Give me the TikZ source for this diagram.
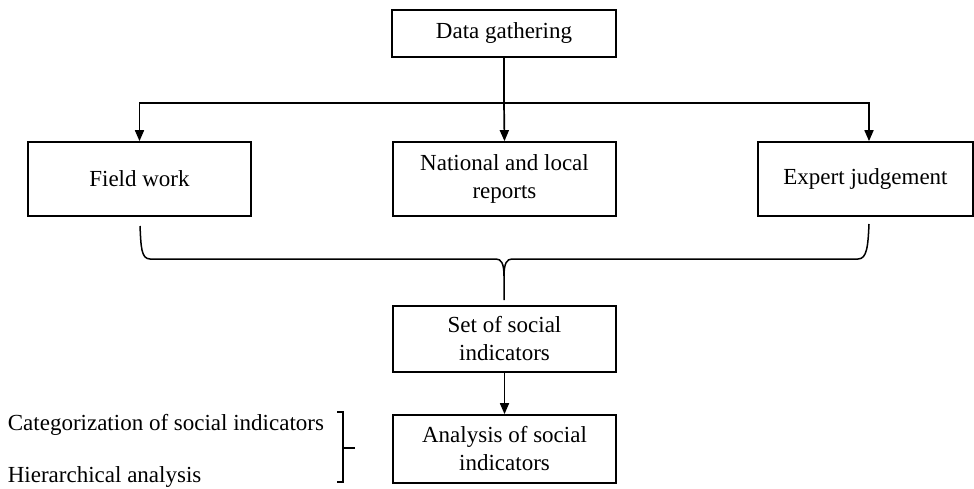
\documentclass[tikz,border=0pt]{standalone}
\usepackage{fontspec}
\setmainfont{Liberation Serif}
\usetikzlibrary{arrows.meta}
\begin{document}
\begin{tikzpicture}[x=1pt,y=-1pt,
  line width=1.7pt,
  font=\fontsize{23}{28}\selectfont,
  box/.style={draw, rectangle, inner sep=0pt, align=center, minimum width=223pt},
  arr/.style={-{Triangle[length=11pt,width=9pt]}},
  plain/.style={inner sep=0pt, anchor=base west}]
\useasboundingbox (0,0) rectangle (974,489);

% boxes
\node[box, minimum width=224pt, minimum height=47pt] (dg) at (504,33.5) {Data gathering};
\node[box, minimum height=74pt] (fw) at (139.5,179) {Field work};
\node[box, minimum height=74pt] (nr) at (504.5,179) {National and local\\reports};
\node[box, minimum width=215pt, minimum height=74pt] (ej) at (865.5,179) {Expert judgement};
\node[box, minimum height=66pt] (si) at (504.5,339) {Set of social\\indicators};
\node[box, minimum height=68pt] (an) at (504.5,449) {Analysis of social\\indicators};

% side labels
\node[plain] (cat) at (7,430) {Categorization of social indicators};
\node[plain] (hier) at (7,482) {Hierarchical analysis};

% distribution from data gathering
\coordinate (split) at (504,103);
\draw (dg.south) -- (split);
\draw[arr] (split) -- (nr.north);
\draw[arr] (split) -| (fw.north);
\draw[arr] (split) -| ([xshift=3.5pt]ej.north);

% brace gathering the three sources
\coordinate (tip) at (504,300);
\draw[line width=1.5pt] (140,226) .. controls (141,246) and (141,259) .. (150,259)
  -- (496,259) .. controls (501,259) and (504,263) .. (504,276) -- (tip);
\draw[line width=1.5pt] (869,224) .. controls (868,246) and (867,259) .. (858,259)
  -- (512,259) .. controls (507,259) and (504,263) .. (504,276);

\draw[arr] (si.south) -- (an.north);

% bracket for the analysis steps
\draw[line width=1.4pt] (337,412) -- (343,412) -- (343,482) -- (337,482);
\draw[line width=1.4pt] (343,448) -- (355,448);
\end{tikzpicture}
\end{document}
